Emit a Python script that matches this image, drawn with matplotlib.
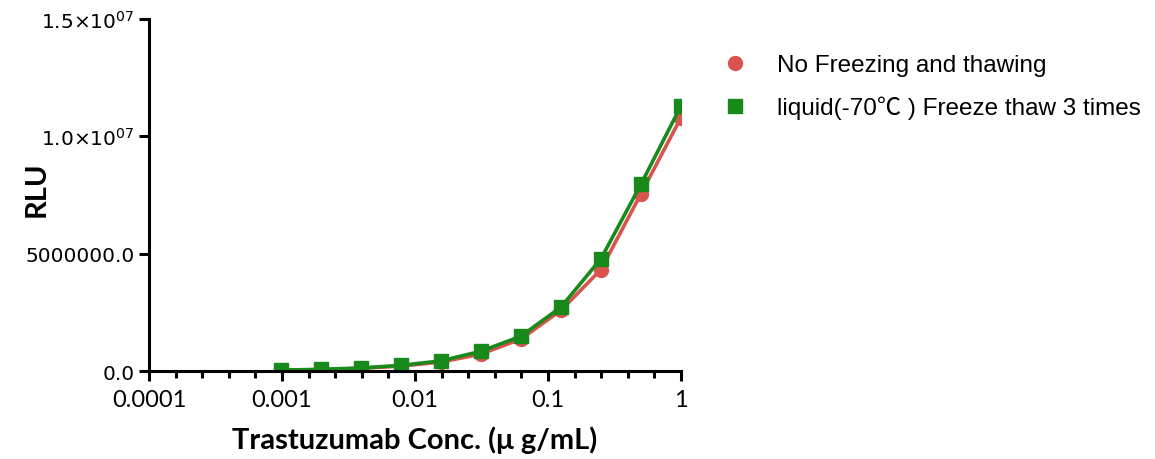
import numpy as np
import matplotlib.pyplot as plt
from matplotlib.ticker import FixedLocator

# Serial 2-fold dilution (ug/mL)
conc = [1, 0.5, 0.25, 0.125, 0.0625, 0.03125, 0.015625, 0.0078125,
        0.00390625, 0.001953125, 0.0009765625]

# RLU
rlu_no_ft = [1.08e7, 7.55e6, 4.32e6, 2.58e6, 1.36e6, 7.2e5, 3.8e5,
             2.1e5, 1.1e5, 6.0e4, 3.0e4]
rlu_ft3 = [1.13e7, 7.96e6, 4.78e6, 2.72e6, 1.48e6, 8.4e5, 4.3e5,
           2.4e5, 1.3e5, 7.0e4, 4.0e4]

red = '#D9534F'
green = '#178A1B'

fig = plt.figure(figsize=(11.55, 4.6), dpi=100)
ax = fig.add_axes([0.129, 0.1913, 0.4606, 0.7652])

ax.plot(conc, rlu_no_ft, color=red, lw=2.6, marker='o', ms=10,
        label='No Freezing and thawing')
ax.plot(conc, rlu_ft3, color=green, lw=2.6, marker='s', ms=10.5,
        label='liquid(-70\u2103 ) Freeze thaw 3 times')

ax.set_xscale('log')
ax.set_xlim(1e-4, 1)
ax.set_ylim(0, 1.5e7)

# GraphPad-style minor ticks: 4 evenly spaced (in log) per decade
minor = [10 ** (d + k / 5) for d in range(-4, 0) for k in range(1, 5)]
ax.xaxis.set_minor_locator(FixedLocator(minor))
ax.xaxis.set_major_locator(FixedLocator([1e-4, 1e-3, 1e-2, 1e-1, 1]))
ax.set_xticklabels(['0.0001', '0.001', '0.01', '0.1', '1'],
                   family='Lato', fontsize=17)

ax.set_yticks([0, 5e6, 1e7, 1.5e7])
ax.set_yticklabels(['0.0', '5000000.0', '1.0\u00d710$^{07}$', '1.5\u00d710$^{07}$'],
                   family='DejaVu Sans', fontsize=14.5)

for s in ['top', 'right']:
    ax.spines[s].set_visible(False)
for s in ['left', 'bottom']:
    ax.spines[s].set_linewidth(2.2)
ax.tick_params(which='major', length=7, width=2.2, color='black')
ax.tick_params(axis='x', which='major', pad=6)
ax.tick_params(which='minor', length=5, width=2.2, color='black')

ax.set_xlabel('Trastuzumab Conc. (\u03bc g/mL)', family='Lato',
              fontweight='bold', fontsize=21)
ax.xaxis.set_label_coords(0.5, -0.155)
ax.set_ylabel('RLU', family='Lato', fontweight='bold', fontsize=21)
ax.yaxis.set_label_coords(-0.186, 0.52)

ax.legend(loc='upper left', bbox_to_anchor=(1.038, 0.962), frameon=False,
          prop={'family': ['Liberation Sans', 'Noto Sans CJK SC'], 'size': 17.5},
          handlelength=1.0, handletextpad=1.2, labelspacing=0.8)
for h in ax.get_legend().legend_handles:
    h.set_linestyle('none')

fig.savefig('out.png', dpi=100)
